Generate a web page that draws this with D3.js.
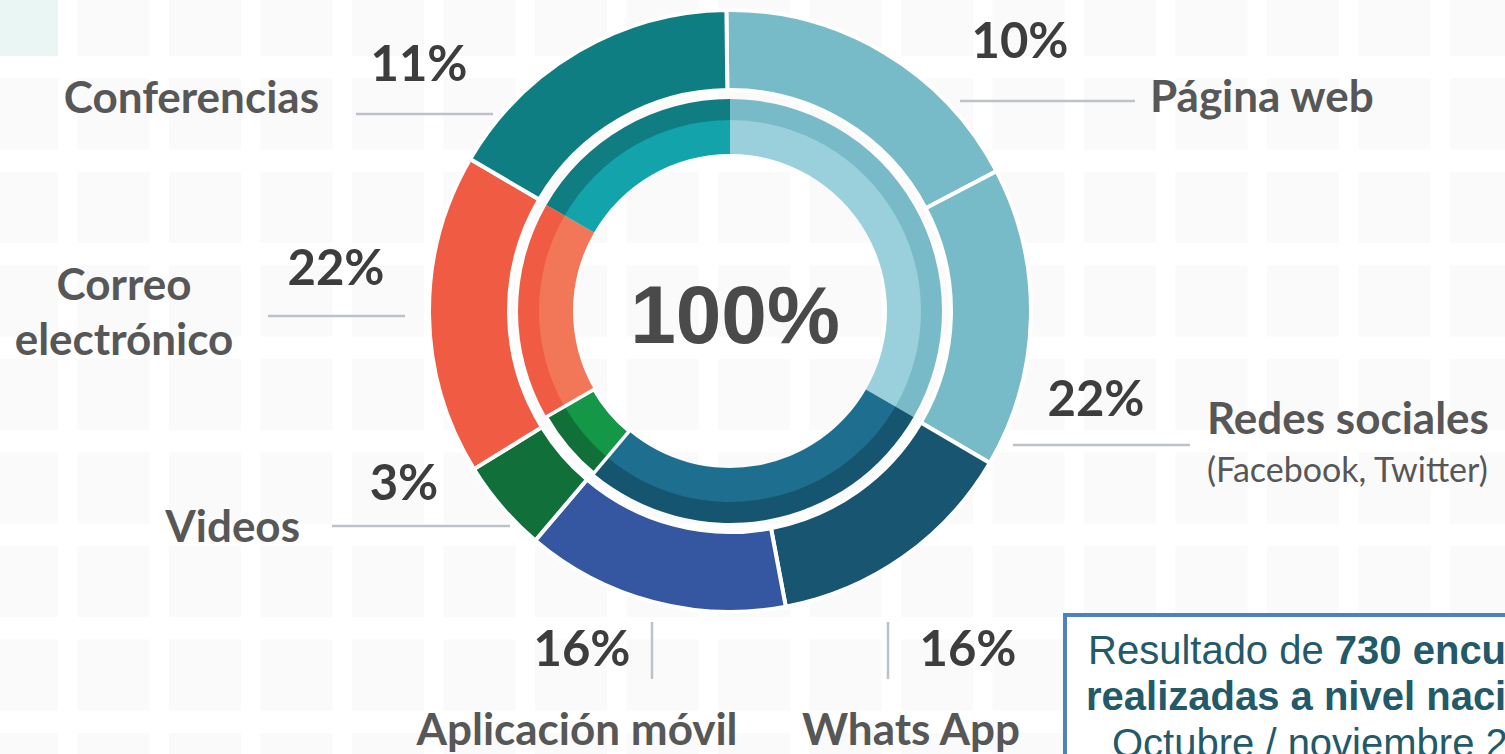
<!DOCTYPE html>
<html>
<head>
<meta charset="utf-8">
<script src="https://cdn.jsdelivr.net/npm/d3@7"></script>
<style>
  html, body { margin: 0; padding: 0; background: #fff; overflow: hidden; }
  svg { display: block; }
</style>
</head>
<body>
<svg id="chart"></svg>
<script>
// categories as they go round the outer ring, clockwise from 12 o'clock
const categories = ["Página web", "Redes sociales", "Whats App", "Aplicación móvil", "Videos", "Correo electrónico", "Conferencias"];
const shares = [10, 22, 16, 16, 3, 22, 11];
// size of each outer arc as it is drawn (degrees)
const outerSpan = [63, 58, 49, 51, 18, 62, 59];
const outerColors = ["#78bbc8", "#78bbc8", "#175570", "#3557a1", "#117039", "#ef5c43", "#0f7e82"];

// inner ring groups, clockwise from 12 o'clock
const innerGroups = ["web", "mensajeria", "videos", "correo", "conferencias"];
const innerSpan = [120, 100, 20, 60, 60];
const innerDark = ["#78bac8", "#16556f", "#107038", "#ef5b43", "#0f7d81"];
const innerLight = ["#9ad0db", "#1e6f8f", "#149847", "#f27658", "#12a3ab"];

const centerLabel = "100%";
const boxLines = ["Resultado de ", "730 encuestas", "realizadas a nivel nacional", "Octubre / noviembre 2019"];

const W = 1505, H = 754;
const cx = 730, cy = 311;

const svg = d3.select("#chart").attr("width", W).attr("height", H);

// faint tile background
const bg = svg.append("g");
d3.range(-1, 17).forEach(c => {
  d3.range(0, 9).forEach(r => {
    bg.append("rect")
      .attr("x", -14 + c * 91.5)
      .attr("y", -15 + r * 93.5)
      .attr("width", 72)
      .attr("height", 71)
      .attr("fill", (c === 0 && r === 0) ? "#eaf6f4" : "#fafafa");
  });
});

const g = svg.append("g").attr("transform", `translate(${cx},${cy})`);

const pie = d3.pie().sort(null).value(d => d.span).startAngle(-0.012).endAngle(2 * Math.PI - 0.012);

// outer ring
const outerArc = d3.arc().innerRadius(221).outerRadius(301);
const outerData = pie(categories.map((c, i) => ({ name: c, span: outerSpan[i], color: outerColors[i] })));
g.selectAll("path.outer")
  .data(outerData)
  .enter().append("path")
  .attr("class", "outer")
  .attr("d", outerArc)
  .attr("fill", d => d.data.color)
  .attr("stroke", "#fff")
  .attr("stroke-width", 4);

// inner ring, two tones
const innerData = pie.startAngle(0).endAngle(2 * Math.PI)(innerGroups.map((k, i) => ({ name: k, span: innerSpan[i], i })));
const innerOut = d3.arc().innerRadius(190).outerRadius(212);
const innerIn = d3.arc().innerRadius(157).outerRadius(191);
const innerAll = d3.arc().innerRadius(157).outerRadius(212);
g.selectAll("path.inout")
  .data(innerData)
  .enter().append("path")
  .attr("d", innerOut)
  .attr("fill", d => innerDark[d.data.i]);
g.selectAll("path.inin")
  .data(innerData)
  .enter().append("path")
  .attr("d", innerIn)
  .attr("fill", d => innerLight[d.data.i]);
// the videos slice is cut off by white separators
g.selectAll("path.insep")
  .data(innerData.filter(d => d.data.name === "videos"))
  .enter().append("path")
  .attr("d", innerAll)
  .attr("fill", "none")
  .attr("stroke", "#fff")
  .attr("stroke-width", 3.5);

g.append("text")
  .attr("x", 5)
  .attr("y", 32)
  .attr("text-anchor", "middle")
  .style("font", "bold 82px 'Liberation Sans', Arial, sans-serif")
  .attr("fill", "#4a4a4a")
  .text(centerLabel);

// label layout (percent text, category text, leader line)
const layout = [
  { px: 1020, py: 58, lx: 1150, ly: 112, anchor: "start", line: [960, 101, 1135, 101] },
  { px: 1096, py: 416, lx: 1207, ly: 434, anchor: "start", line: [1013, 445, 1190, 445], sub: "(Facebook, Twitter)" },
  { px: 968, py: 666, lx: 911, ly: 745, anchor: "middle", line: [888, 622, 888, 679] },
  { px: 582, py: 666, lx: 577, ly: 745, anchor: "middle", line: [652, 622, 652, 679] },
  { px: 404, py: 500, lx: 300, ly: 542, anchor: "end", line: [332, 526, 510, 526] },
  { px: 336, py: 285, lx: 124, ly: 300, anchor: "middle", line: [268, 316, 405, 316], two: ["Correo", "electrónico"] },
  { px: 419, py: 81, lx: 319, ly: 113, anchor: "end", line: [356, 114, 493, 114] }
];

const labels = svg.append("g");
categories.forEach((c, i) => {
  const L = layout[i];
  labels.append("line")
    .attr("x1", L.line[0]).attr("y1", L.line[1])
    .attr("x2", L.line[2]).attr("y2", L.line[3])
    .attr("stroke", "#bcc2c7")
    .attr("stroke-width", 2.5);
  labels.append("text")
    .attr("x", L.px).attr("y", L.py)
    .attr("text-anchor", "middle")
    .style("font", "bold 49px Lato, 'Open Sans', sans-serif")
    .attr("fill", "#3d3d3d")
    .text(shares[i] + "%");
  if (L.two) {
    L.two.forEach((t, k) => {
      labels.append("text")
        .attr("x", L.lx).attr("y", L.ly + k * 55)
        .attr("text-anchor", "middle")
        .style("font", "bold 44px Lato, 'Open Sans', sans-serif")
        .attr("fill", "#575757")
        .text(t);
    });
  } else {
    labels.append("text")
      .attr("x", L.lx).attr("y", L.ly)
      .attr("text-anchor", L.anchor)
      .style("font", "bold 44px Lato, 'Open Sans', sans-serif")
      .attr("fill", "#575757")
      .text(c);
  }
  if (L.sub) {
    labels.append("text")
      .attr("x", L.lx).attr("y", L.ly + 48)
      .style("font", "34px Lato, 'Open Sans', sans-serif")
      .attr("fill", "#575757")
      .text(L.sub);
  }
});

// note box (runs past the right edge of the picture)
const box = svg.append("g");
box.append("rect")
  .attr("x", 1065).attr("y", 615)
  .attr("width", 620).attr("height", 220)
  .attr("fill", "#fff")
  .attr("stroke", "#4f81bd")
  .attr("stroke-width", 4);
const t1 = box.append("text")
  .attr("x", 1088).attr("y", 664)
  .style("font", "40px 'Liberation Sans', Arial, sans-serif")
  .attr("fill", "#235a69");
t1.append("tspan").text(boxLines[0]);
t1.append("tspan").attr("font-weight", "bold").text(boxLines[1]);
box.append("text")
  .attr("x", 1086).attr("y", 710)
  .style("font", "bold 40px 'Liberation Sans', Arial, sans-serif")
  .attr("fill", "#235a69")
  .text(boxLines[2]);
box.append("text")
  .attr("x", 1112).attr("y", 757)
  .style("font", "40px 'Liberation Sans', Arial, sans-serif")
  .attr("fill", "#235a69")
  .text(boxLines[3]);
</script>
</body>
</html>
